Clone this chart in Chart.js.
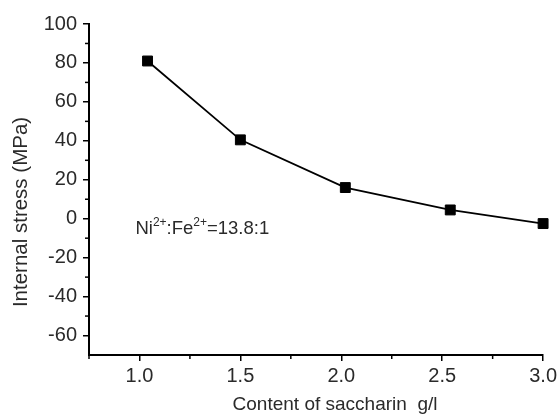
<!DOCTYPE html>
<html>
<head>
<meta charset="utf-8">
<script src="https://cdn.jsdelivr.net/npm/chart.js@4.4.1/dist/chart.umd.min.js"></script>
<style>
  html, body { margin: 0; padding: 0; background: #fff; }
  #wrap { width: 560px; height: 414px; position: relative; }
</style>
</head>
<body>
<div id="wrap"><canvas id="stressChart"></canvas></div>
<script>
/* saccharin content (g/l) vs internal stress (MPa) */
var SACCHARIN = [1.04, 1.5, 2.02, 2.54, 3.0];
var STRESS    = [81, 40.5, 16, 4.5, -2.5];

var X_MIN = 0.75, X_MAX = 3.0, X_STEP = 0.25;
var Y_MIN = -70, Y_MAX = 100, Y_STEP = 10;

var FONT = "'Liberation Sans', Arial, sans-serif";
var INK = "#000";
var TXT = "#2a2a2a";

function isHalf(v) { return Math.abs(v / 0.5 - Math.round(v / 0.5)) < 1e-6; }

/* ── minor ticks + titles + ratio note ── */
var decor = {
  id: "decor",
  afterDraw: function (chart) {
    var ctx = chart.ctx, a = chart.chartArea;
    var xs = chart.scales.x, ys = chart.scales.y;
    ctx.save();
    ctx.strokeStyle = INK;
    ctx.lineWidth = 1.5;

    /* minor ticks (shorter) */
    xs.ticks.forEach(function (t) {
      if (isHalf(t.value)) return;
      var px = xs.getPixelForValue(t.value);
      ctx.beginPath(); ctx.moveTo(px, a.bottom); ctx.lineTo(px, a.bottom + 4); ctx.stroke();
    });
    ys.ticks.forEach(function (t) {
      if (t.value % 20 === 0 || t.value === Y_MIN) return;
      var py = ys.getPixelForValue(t.value);
      ctx.beginPath(); ctx.moveTo(a.left, py); ctx.lineTo(a.left - 4, py); ctx.stroke();
    });

    /* axis titles */
    ctx.fillStyle = TXT;
    ctx.textAlign = "center";
    ctx.textBaseline = "middle";
    ctx.font = "19px " + FONT;
    ctx.fillText("Content of saccharin  g/l", a.left + 246, 405);
    ctx.save();
    ctx.translate(21, a.top + 188);
    ctx.rotate(-Math.PI / 2);
    ctx.font = "20.5px " + FONT;
    ctx.fillText("Internal stress (MPa)", 0, 0);
    ctx.restore();

    /* Ni2+:Fe2+ note */
    var x0 = xs.getPixelForValue(0.98), y0 = ys.getPixelForValue(-8);
    ctx.textAlign = "left";
    ctx.textBaseline = "alphabetic";
    var parts = [["Ni", 0], ["2+", 1], [":Fe", 0], ["2+", 1], ["=13.8:1", 0]];
    parts.forEach(function (p) {
      ctx.font = (p[1] ? "12px " : "18.5px ") + FONT;
      ctx.fillText(p[0], x0, p[1] ? y0 - 8 : y0);
      x0 += ctx.measureText(p[0]).width;
    });
    ctx.restore();
  }
};

new Chart(document.getElementById("stressChart"), {
  type: "scatter",
  data: {
    datasets: [{
      data: SACCHARIN.map(function (x, i) { return { x: x, y: STRESS[i] }; }),
      showLine: true,
      clip: false,
      borderColor: INK,
      borderWidth: 1.8,
      pointStyle: "rect",
      pointRadius: 7,
      pointBackgroundColor: INK,
      pointBorderColor: INK,
      pointBorderWidth: 1
    }]
  },
  options: {
    responsive: true,
    maintainAspectRatio: false,
    animation: false,
    layout: { padding: { top: 24, right: 12, left: 0, bottom: 0 } },
    plugins: { legend: { display: false }, tooltip: { enabled: false } },
    scales: {
      x: {
        type: "linear", min: X_MIN, max: X_MAX,
        afterFit: function (s) { s.height = 59; },
        border: { display: true, color: INK, width: 2 },
        grid: {
          drawOnChartArea: false, tickLength: 6, lineWidth: 1.5,
          color: function (c) {
            var v = c.tick ? c.tick.value : 0;
            return isHalf(v) && v !== X_MIN ? INK : "rgba(0,0,0,0)";
          }
        },
        ticks: {
          stepSize: X_STEP, color: TXT, padding: 3, maxRotation: 0, autoSkip: false,
          font: { family: FONT, size: 20 },
          callback: function (v) { return isHalf(v) && v !== X_MIN ? v.toFixed(1) : ""; }
        }
      },
      y: {
        type: "linear", min: Y_MIN, max: Y_MAX,
        afterFit: function (s) { s.width = 89; },
        border: { display: true, color: INK, width: 2 },
        grid: {
          drawOnChartArea: false, tickLength: 6, lineWidth: 1.5,
          color: function (c) {
            var v = c.tick ? c.tick.value : 0;
            return v % 20 === 0 ? INK : "rgba(0,0,0,0)";
          }
        },
        ticks: {
          stepSize: Y_STEP, color: TXT, padding: 6, autoSkip: false,
          font: { family: FONT, size: 20 },
          callback: function (v) { return v % 20 === 0 ? v : ""; }
        }
      }
    }
  },
  plugins: [decor]
});
</script>
</body>
</html>
